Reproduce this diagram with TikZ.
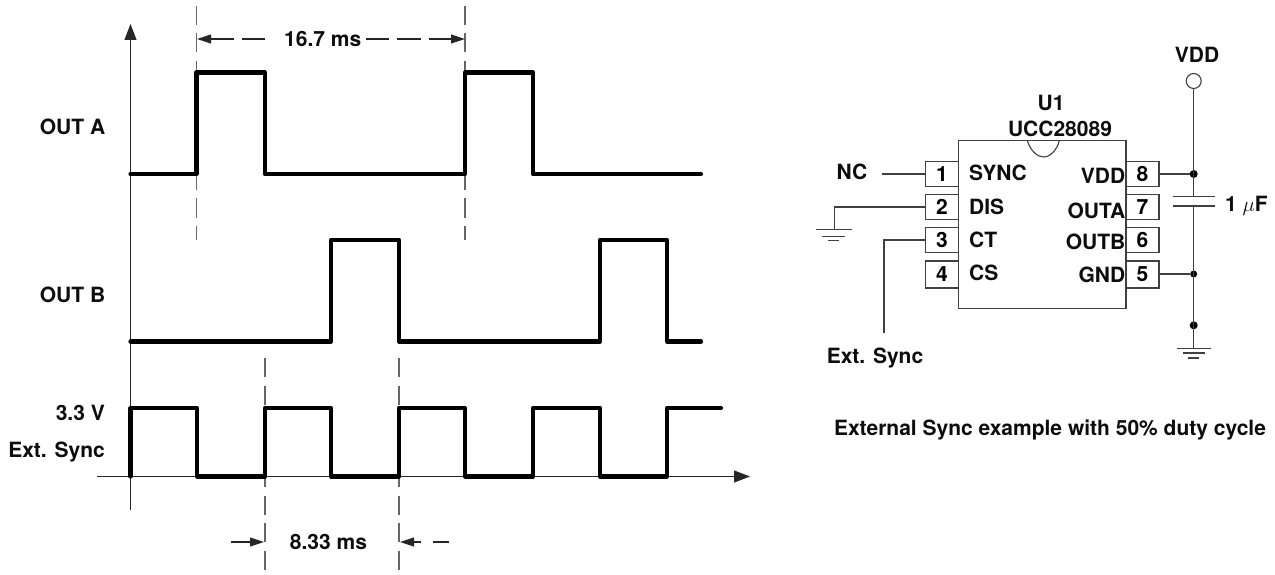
\documentclass[tikz,border=0pt]{standalone}
\usepackage{fontspec}
\setmainfont{TeX Gyre Heros}
\usetikzlibrary{arrows.meta}
\tikzset{
  lbl/.style={inner sep=0pt,font=\fontsize{21}{24}\bfseries\selectfont,text=black!95},
  wave/.style={line width=4.2pt,line join=round,line cap=round,black},
  axisline/.style={line width=1.1pt,black!85},
  guide/.style={line width=1.1pt,black!60,dash pattern=on 19pt off 8.5pt},
  dimline/.style={line width=1.1pt,black!85},
  wire/.style={line width=1.1pt,black!75},
  pinbox/.style={draw=black!75,line width=1.1pt,minimum width=33pt,minimum height=25pt,inner sep=0pt,font=\fontsize{21}{24}\bfseries\selectfont},
  dot/.style={circle,fill=black,inner sep=0pt,minimum size=8pt},
  tip/.style={-{Triangle[length=14pt,width=9pt]}},
  bigtip/.style={-{Triangle[length=16pt,width=12pt]}},
}
\begin{document}
\begin{tikzpicture}[x=1pt,y=-1pt]
\useasboundingbox (0,0) rectangle (1275,575);
% axes
\draw[axisline,bigtip] (130.5,510) -- (130.5,24);
\draw[axisline,bigtip] (97,476.5) -- (750,476.5);
% guides
\draw[guide] (196.5,6) -- (196.5,240);
\draw[guide] (465,6) -- (465,240);
\draw[guide] (265,358) -- (265,575);
\draw[guide] (399,358) -- (399,575);
% waveforms
\draw[wave] (130.5,174) -| (196.5,72.5) -| (265,174) -| (465,72.5) -| (533,174) -- (701,174);
\draw[wave] (130.5,341.5) -| (331,240) -| (399,341.5) -| (600,240) -| (667,341.5) -- (701,341.5);
\draw[wave] (130.5,476.5) |- (197,408) |- (265,476.5) |- (331,408) |- (399,476.5) |- (465,408) |- (533,476.5) |- (600,408) |- (667,476.5) |- (721,408);
% left labels
\node[lbl] (outa) at (72.5,127) {OUT A};
\node[lbl] (outb) at (72.5,295) {OUT B};
\node[lbl,anchor=east] (v33) at (105,413) {3.3 V};
\node[lbl,anchor=east] (ext) at (105,452.5) {Ext. Sync};
% 16.7 ms
\node[lbl] (t167) at (322.7,39) {16.7 ms};
\coordinate (da) at (197,39);
\coordinate (db) at (465,39);
\coordinate (da1) at (234,39);
\coordinate (da2) at (242,39);
\coordinate (da3) at (265,39);
\draw[dimline,{Triangle[length=14pt,width=9pt]}-] (da) -- (da1);
\draw[dimline] (da2) -- (da3);
\coordinate (db1) at (366,39);
\coordinate (db2) at (389,39);
\coordinate (db3) at (397,39);
\coordinate (db4) at (421,39);
\coordinate (db5) at (429,39);
\draw[dimline] (db1) -- (db2);
\draw[dimline] (db3) -- (db4);
\draw[dimline,tip] (db5) -- (db);
% 8.33 ms
\node[lbl] (t833) at (328.5,542) {8.33 ms};
\coordinate (ea) at (231,542);
\coordinate (eb) at (264,542);
\coordinate (ec) at (400,542);
\coordinate (ed) at (421,542);
\coordinate (ee) at (433,542);
\coordinate (ef) at (449,542);
\draw[dimline,tip] (ea) -- (eb);
\draw[dimline,tip] (ed) -- (ec);
\draw[dimline] (ee) -- (ef);
% IC
\node[draw=black!75,line width=1.1pt,minimum width=167.5pt,minimum height=167.5pt,inner sep=0pt] (ic) at (1042.25,224.5) {};
\draw[wire] (1027.3,140.7) .. controls (1031,152) and (1038,157) .. (1044,157) .. controls (1050,157) and (1057,150) .. (1059.3,140.7);
\node[pinbox] (p1) at (942,174) {1};
\node[pinbox] (p2) at (942,207) {2};
\node[pinbox] (p3) at (942,240) {3};
\node[pinbox,minimum height=27pt] (p4) at (942,274.5) {4};
\node[pinbox] (p8) at (1142.5,174) {8};
\node[pinbox] (p7) at (1142.5,207) {7};
\node[pinbox] (p6) at (1142.5,240) {6};
\node[pinbox,minimum height=27pt] (p5) at (1142.5,274.5) {5};
\node[lbl] (u1) at (1051,103) {U1};
\node[lbl] (ucc) at (1060,129) {UCC28089};
\node[lbl,anchor=west] (ls) at (969,172.5) {SYNC};
\node[lbl,anchor=west] (ld) at (969,206.5) {DIS};
\node[lbl,anchor=west] (lc) at (969,239.5) {CT};
\node[lbl,anchor=west] (lcs) at (969,272.5) {CS};
\node[lbl,anchor=east] (rv) at (1125.5,176) {VDD};
\node[lbl,anchor=east] (ra) at (1125.5,210.7) {OUTA};
\node[lbl,anchor=east] (rb) at (1125.5,241.7) {OUTB};
\node[lbl,anchor=east] (rg) at (1125.5,275) {GND};
% left wiring
\node[lbl] (nc) at (852,172) {NC};
\coordinate (ncw) at (881.7,174);
\draw[wire] (ncw) -- (p1.west);
\coordinate (g1) at (834.3,229.3);
\draw[wire] (p2.west) -| (g1);
\draw[wire] (816,229.3) -- (851.7,229.3);
\draw[wire] (821.7,236.3) -- (845,236.3);
\draw[wire] (828,240.7) -- (839,240.7);
\coordinate (sy) at (884,333);
\draw[wire] (p3.west) -| (sy);
\node[lbl] (exts) at (875,358.5) {Ext. Sync};
% right wiring
\node[lbl] (vddl) at (1197,55) {VDD};
\node[circle,draw=black!75,line width=1.1pt,fill=white,inner sep=0pt,minimum size=15pt] (vc) at (1193.7,81) {};
\node[dot] (n8) at (1193.7,174) {};
\node[dot,minimum size=7pt] (n5) at (1193.7,274) {};
\node[dot] (nb) at (1193.7,325.3) {};
\coordinate (c1) at (1193.7,196.7);
\coordinate (c2) at (1193.7,206);
\coordinate (gr) at (1193.7,348.3);
\draw[wire] (vc.south) -- (c1);
\draw[wire] (c2) -- (gr);
\draw[wire] (p8.east) -- (n8);
\draw[wire] (p5.east |- n5) -- (n5);
\draw[wire] (1173.3,196.7) -- (1215,196.7);
\draw[wire] (1173.3,206) -- (1215,206);
\draw[wire] (1177,348.3) -- (1210.7,348.3);
\draw[wire] (1183,353) -- (1205,353);
\draw[wire] (1188,358) -- (1199,358);
\node[lbl,anchor=west] (cap) at (1225,206) {1 $\mu$F};
\node[lbl] (cap2) at (1050,429.5) {External Sync example with 50\% duty cycle};
\end{tikzpicture}
\end{document}
